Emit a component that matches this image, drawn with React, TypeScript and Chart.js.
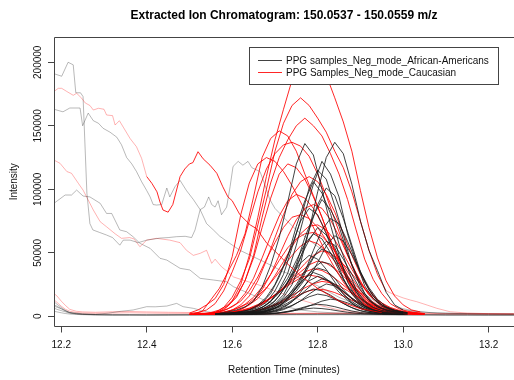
import React, { useEffect, useRef } from "react";
import { Chart, registerables } from "chart.js";

Chart.register(...registerables);

// ---------- text ----------
const chartTitle = "Extracted Ion Chromatogram: 150.0537 - 150.0559 m/z";
const xAxisTitle = "Retention Time (minutes)";
const yAxisTitle = "Intensity";
const seriesLabels = ["PPG samples_Neg_mode_African-Americans", "PPG Samples_Neg_mode_Caucasian"];

// ---------- axes ----------
const xTickValues = [12.2, 12.4, 12.6, 12.8, 13.0, 13.2];
const xTickLabels = ["12.2", "12.4", "12.6", "12.8", "13.0", "13.2"];
const yTickValues = [0, 50000, 100000, 150000, 200000];
const yTickLabels = ["0", "50000", "100000", "150000", "200000"];
const xRange = [12.183, 13.2594];
const yRange = [-8000, 219900];

// ---------- retention-time grids ----------
const rtBlackEven = [12.56, 12.58, 12.6, 12.62, 12.64, 12.66, 12.68, 12.7, 12.72, 12.74, 12.76, 12.78, 12.8, 12.82, 12.84, 12.86, 12.88, 12.9, 12.92, 12.94, 12.96, 12.98, 13.0];
const rtBlackOdd = [12.57, 12.59, 12.61, 12.63, 12.65, 12.67, 12.69, 12.71, 12.73, 12.75, 12.77, 12.79, 12.81, 12.83, 12.85, 12.87, 12.89, 12.91, 12.93, 12.95, 12.97, 12.99, 13.01];
const rtRedEven = [12.5, 12.52, 12.54, 12.56, 12.58, 12.6, 12.62, 12.64, 12.66, 12.68, 12.7, 12.72, 12.74, 12.76, 12.78, 12.8, 12.82, 12.84, 12.86, 12.88, 12.9, 12.92, 12.94, 12.96, 12.98, 13.0, 13.02, 13.04];
const rtRedOdd = [12.51, 12.53, 12.55, 12.57, 12.59, 12.61, 12.63, 12.65, 12.67, 12.69, 12.71, 12.73, 12.75, 12.77, 12.79, 12.81, 12.83, 12.85, 12.87, 12.89, 12.91, 12.93, 12.95, 12.97, 12.99, 13.01, 13.03, 13.05];
const rtBase = [12.183, 12.19, 12.2, 12.21, 12.22, 12.235, 12.25, 12.28, 12.32, 12.36, 12.4, 12.45, 12.5, 12.55, 12.6, 12.65, 12.7, 12.75, 12.8, 12.85, 12.9, 12.95, 13.0, 13.05, 13.1, 13.15, 13.2, 13.26];

// ---------- African-American peaks (dark) ----------
const aa01 = [2500, 3500, 5000, 7500, 12000, 23000, 40000, 62000, 90000, 120000, 136000, 127000, 100000, 72000, 48000, 27000, 15000, 8500, 5000, 3500, 2600, 2100, 1800];
const aa02 = [1600, 1800, 2000, 2500, 3000, 4000, 6000, 9000, 15000, 25000, 42000, 68000, 98000, 125000, 137000, 128000, 104000, 75000, 52000, 36000, 19000, 9000, 5000];
const aa03 = [1900, 2100, 2800, 3200, 4600, 7000, 12000, 21000, 34000, 56000, 81000, 104000, 122000, 112000, 94000, 65000, 43000, 24000, 14000, 8000, 5000, 3700, 2900];
const aa04 = [1800, 2200, 2600, 3300, 4400, 6800, 11000, 20000, 33000, 54000, 76000, 101000, 115000, 108000, 87000, 64000, 40000, 23000, 13000, 7800, 4900, 3600, 2900];
const aa05 = [2100, 2500, 3100, 4200, 6100, 10500, 18000, 31000, 47000, 71000, 91000, 106000, 97000, 81000, 57000, 38000, 21000, 12000, 7200, 4600, 3400, 2700, 2300];
const aa06 = [1600, 1800, 2100, 2500, 3000, 4000, 6200, 10000, 17000, 30000, 46000, 68000, 88000, 101000, 95000, 77000, 56000, 35000, 21000, 11500, 7000, 4500, 3300];
const aa07 = [1800, 2100, 2400, 2900, 3800, 5600, 9000, 16000, 27000, 41000, 62000, 79000, 92000, 84000, 71000, 49000, 33000, 18000, 10500, 6500, 4200, 3100, 2600];
const aa08 = [2000, 2300, 2800, 3700, 5200, 8800, 15000, 25000, 40000, 56000, 75000, 85000, 80000, 65000, 47000, 30000, 17500, 10000, 6100, 4000, 3000, 2500, 2200];
const aa09 = [1600, 1800, 2000, 2300, 2700, 3400, 5000, 8000, 14000, 23000, 35000, 52000, 68000, 77000, 73000, 59000, 43000, 27000, 16000, 9000, 5700, 3800, 2900];
const aa10 = [1700, 1900, 2200, 2600, 3200, 4500, 7500, 12000, 21000, 32000, 47000, 60000, 70000, 64000, 54000, 38000, 25000, 14000, 8300, 5200, 3500, 2700, 2300];
const aa11 = [1900, 2100, 2500, 3200, 4300, 7000, 11500, 20000, 30000, 44000, 57000, 65000, 61000, 50000, 36000, 23000, 14000, 8000, 5000, 3400, 2700, 2300, 2100];
const aa12 = [1500, 1600, 1800, 2100, 2400, 3000, 4200, 6500, 11000, 18000, 27000, 40000, 52000, 59000, 56000, 45000, 33000, 21000, 12500, 7300, 4700, 3200, 2500];
const aa13 = [1600, 1800, 2000, 2300, 2800, 3900, 6000, 10000, 16000, 25000, 36000, 47000, 53000, 50000, 41000, 30000, 19000, 11400, 6700, 4400, 3100, 2400, 2100];
const aa14 = [1800, 2000, 2200, 2700, 3600, 5600, 9000, 15000, 22000, 33000, 42000, 48000, 45000, 37000, 27000, 17500, 10400, 6200, 4100, 2900, 2400, 2100, 1900];
const aa15 = [1600, 1700, 1900, 2100, 2600, 3400, 5200, 8000, 13500, 20000, 29000, 38000, 43000, 41000, 33000, 24000, 16000, 9500, 5700, 3800, 2800, 2300, 2000];
const aa16 = [1600, 1700, 1900, 2100, 2500, 3200, 4600, 7600, 12000, 18000, 26000, 34000, 38000, 36000, 30000, 21000, 14000, 8500, 5200, 3500, 2600, 2200, 1900];
const aa17 = [1600, 1800, 2000, 2300, 3000, 4400, 6800, 11000, 16500, 23000, 30000, 34500, 32000, 27000, 19000, 12700, 7800, 4800, 3300, 2500, 2100, 1900, 1800];
const aa18 = [1600, 1700, 1800, 2000, 2300, 2900, 4000, 6300, 10000, 15000, 21000, 28000, 31500, 29000, 24500, 17700, 11700, 7200, 4500, 3200, 2400, 2000, 1900];
const aa19 = [1600, 1700, 1800, 1900, 2200, 2800, 3900, 6000, 9400, 14200, 20000, 26000, 29500, 27500, 22800, 16600, 11000, 6800, 4300, 3000, 2300, 2000, 1800];
const aa20 = [1500, 1500, 1600, 1700, 1900, 2200, 2600, 3500, 5300, 8200, 12300, 17500, 22000, 25500, 24000, 19700, 14500, 9700, 6100, 3900, 2800, 2200, 1900];
const aa21 = [1500, 1600, 1700, 2000, 2400, 3200, 4700, 7100, 10500, 14700, 18900, 21500, 20100, 16700, 12300, 8300, 5300, 3500, 2600, 2100, 1900, 1800, 1700];
const aa22 = [1500, 1600, 1700, 1800, 2000, 2200, 2900, 4100, 6000, 8700, 12100, 15400, 17500, 16400, 13700, 10100, 6900, 4500, 3100, 2400, 2000, 1800, 1700];
const aa23 = [1500, 1500, 1600, 1600, 1700, 1800, 2000, 2500, 3400, 4900, 6900, 9400, 12000, 13500, 12700, 10600, 8000, 5600, 3800, 2700, 2200, 1900, 1800];
const aa24 = [1500, 1500, 1500, 1600, 1700, 1800, 2000, 2300, 3300, 4600, 6500, 8400, 9500, 8900, 7600, 5800, 4200, 3000, 2300, 1900, 1700, 1600, 1500];
const aa25 = [1400, 1400, 1500, 1500, 1600, 1800, 2200, 2900, 3700, 4800, 5800, 6500, 6100, 5300, 4200, 3200, 2500, 2000, 1800, 1600, 1500, 1400, 1400];
const aa26 = [1500, 1500, 1600, 1800, 2100, 2600, 3200, 4300, 6800, 11400, 18900, 29400, 42400, 55400, 63500, 59200, 48600, 35000, 22600, 13300, 7700, 4900, 3400];

// ---------- Caucasian peaks (red) ----------
const ca01 = [1500, 1800, 2200, 3000, 5000, 12000, 25000, 48000, 78000, 110000, 139000, 163000, 186000, 198000, 204000, 200000, 190000, 172000, 153000, 130000, 99000, 70000, 46000, 28000, 16000, 9000, 5000, 3500];
const ca02 = [1500, 1600, 2000, 3000, 7000, 15000, 28000, 45000, 72000, 100000, 130000, 152000, 166000, 172000, 166000, 156000, 145000, 130000, 117000, 98000, 75000, 52000, 33000, 20000];
const ca03 = [1500, 1800, 2500, 4000, 8000, 15000, 28000, 48000, 78000, 105000, 125000, 139000, 150000, 156000, 150000, 142000, 128000, 112000, 92000, 68000, 45000, 29000, 18000, 10000, 6000, 4000, 3000, 2200];
const ca04 = [2000, 4000, 13000, 22000, 35000, 48000, 65000, 94000, 125000, 140000, 146000, 142000, 130000, 112000, 95000, 78000, 60000, 43000, 28000, 17000, 10000, 6000, 4000, 3000, 2500, 2000, 1800, 1600];
const ca05 = [2600, 5000, 9000, 14000, 25000, 47000, 80000, 105000, 120000, 125000, 122000, 114000, 103000, 90000, 77000, 63000, 50000, 38000, 27000, 18000, 11500, 7500, 5000, 3500, 2700, 2200, 1900, 1700];
const ca06 = [2000, 3000, 5000, 10000, 20000, 35000, 52000, 75000, 98000, 116000, 128000, 135000, 137000, 134000, 126000, 112000, 95000, 76000, 57000, 40000, 27000, 17000, 11000, 7000, 5000, 3500, 2800, 2200];
const ca07 = [1500, 2000, 3000, 5000, 9000, 16000, 28000, 46000, 70000, 93000, 112000, 120000, 117000, 108000, 94000, 78000, 60000, 43000, 29000, 18000, 11000, 7000, 4500, 3200, 2500, 2000, 1800, 1600];
const ca08 = [1500, 1500, 1800, 2200, 3000, 5000, 9000, 16000, 28000, 44000, 62000, 80000, 96000, 106000, 110000, 106000, 96000, 82000, 65000, 48000, 33000, 21000, 13000, 8000, 5000, 3500, 2600, 2100];
const ca09 = [1500, 1800, 2300, 3500, 6000, 10000, 18000, 30000, 46000, 63000, 79000, 91000, 96000, 93000, 85000, 73000, 59000, 45000, 32000, 22000, 14000, 9000, 6000, 4000, 3000, 2400, 2000, 1800];
const ca10 = [1500, 1500, 1700, 2000, 2800, 4000, 7000, 12000, 21000, 33000, 48000, 63000, 76000, 85000, 88000, 85000, 76000, 63000, 48000, 34000, 22000, 14000, 8500, 5500, 3800, 2800, 2200, 1900];
const ca11 = [1500, 1600, 2000, 2800, 4500, 7500, 12000, 20000, 31000, 45000, 58000, 70000, 78000, 80000, 77000, 70000, 60000, 48000, 36000, 25000, 16000, 10000, 6500, 4500, 3300, 2600, 2100, 1800];
const ca12 = [1500, 1500, 1600, 1900, 2500, 3500, 5500, 9000, 14000, 22000, 32000, 43000, 55000, 65000, 71000, 72000, 68000, 60000, 49000, 37000, 26000, 17000, 11000, 7000, 4500, 3200, 2500, 2000];
const ca13 = [1500, 1600, 2000, 2600, 3800, 6000, 9500, 15000, 23000, 33000, 44000, 54000, 61000, 65000, 66000, 63000, 56000, 46000, 35000, 25000, 16000, 10000, 6500, 4300, 3100, 2400, 2000, 1800];
const ca14 = [1500, 1600, 2100, 2700, 3500, 5000, 7300, 10800, 16000, 22400, 30500, 39200, 47900, 55400, 59500, 57200, 51400, 43300, 34000, 25300, 17700, 11900, 7900, 5300, 3800, 2900, 2400, 2000];
const ca15 = [1500, 1500, 1600, 2000, 2500, 3200, 4500, 6500, 9500, 14000, 19500, 26500, 34000, 41500, 48000, 51500, 49500, 44500, 37500, 29500, 22000, 15500, 10500, 7000, 4800, 3500, 2700, 2200];
const ca16 = [1500, 1500, 1600, 1900, 2300, 2900, 4000, 5700, 8200, 12000, 16600, 22500, 28800, 35000, 40600, 43500, 41800, 37600, 31700, 25000, 18700, 13300, 9000, 6000, 4200, 3200, 2600, 2100];
const ca17 = [1500, 1600, 1900, 2200, 2800, 3700, 5100, 7300, 10500, 14500, 19500, 24900, 30300, 35000, 37500, 36100, 32500, 27400, 21700, 16300, 11600, 8000, 5500, 3800, 2900, 2400, 2000, 1800];
const ca18 = [1500, 1600, 1800, 2100, 2600, 3400, 4600, 6500, 9300, 12700, 17000, 21700, 26300, 30300, 32500, 31300, 28200, 23800, 18900, 14200, 10200, 7100, 5000, 3500, 2700, 2200, 1900, 1700];
const ca19 = [1500, 1500, 1600, 1800, 2000, 2400, 3100, 4100, 5700, 7900, 10900, 14500, 18400, 22400, 25700, 27500, 26500, 23900, 20200, 16100, 12200, 8800, 6200, 4400, 3200, 2500, 2100, 1800];
const ca20 = [1500, 1500, 1600, 1700, 1900, 2200, 2700, 3500, 4700, 6500, 8700, 11500, 14500, 17500, 20100, 21500, 20700, 18700, 15900, 12700, 9700, 7100, 5100, 3700, 2800, 2300, 2000, 1800];

// Caucasian sample with the early bump (dark part)
const caBumpTimes = [12.4, 12.412, 12.424, 12.431, 12.438, 12.45, 12.461, 12.478, 12.489, 12.5, 12.508, 12.52, 12.532, 12.548, 12.564, 12.578, 12.59, 12.6, 12.618, 12.642, 12.657, 12.681, 12.71, 12.728, 12.76, 12.8, 12.85, 12.9, 12.95];
const caBumpValues = [110000, 104700, 98000, 90000, 83700, 82000, 88000, 110000, 116000, 120000, 121000, 129600, 124000, 119000, 112600, 102000, 94000, 91000, 80000, 72000, 69000, 57500, 48000, 41700, 32000, 22000, 12000, 6000, 3000];

// ---------- light (outside peak range) traces ----------
const caBumpLightTimes = [12.183, 12.193, 12.201, 12.213, 12.228, 12.236, 12.248, 12.256, 12.267, 12.275, 12.287, 12.3, 12.306, 12.32, 12.326, 12.336, 12.345, 12.361, 12.376, 12.388, 12.4];
const caBumpLightValues = [177000, 179500, 179500, 177000, 174000, 175600, 171600, 168000, 166000, 162400, 163800, 163000, 158500, 158000, 150600, 154000, 149000, 140000, 133500, 124400, 110000];

const aaLight1Times = [12.183, 12.201, 12.216, 12.228, 12.234, 12.245, 12.251, 12.26, 12.267, 12.274, 12.29, 12.306, 12.32, 12.337, 12.345, 12.361, 12.38, 12.4, 12.431, 12.45, 12.47, 12.49, 12.505, 12.513, 12.525, 12.535, 12.545, 12.552, 12.56, 12.567, 12.575, 12.587, 12.595, 12.602, 12.614, 12.625, 12.637, 12.646, 12.665, 12.675, 12.688, 12.7, 12.72, 12.75, 12.78, 12.8, 12.83, 12.86, 12.9, 12.95, 13.0];
const aaLight1Values = [191000, 189000, 200000, 198000, 176000, 176000, 173000, 97000, 73000, 68000, 66000, 64000, 62000, 56000, 60000, 60000, 58000, 60000, 61600, 62000, 62700, 63000, 62000, 68000, 84000, 86000, 94000, 88000, 86000, 91000, 80000, 86000, 102000, 118000, 122000, 119000, 122000, 117000, 114000, 105000, 92000, 85000, 78000, 68000, 60000, 55000, 48000, 35000, 20000, 8000, 3000];

const aaLight2Times = [12.183, 12.204, 12.22, 12.244, 12.25, 12.263, 12.275, 12.287, 12.298, 12.314, 12.33, 12.341, 12.353, 12.365, 12.376, 12.388, 12.4, 12.408, 12.415, 12.423, 12.435, 12.447, 12.454, 12.466, 12.478, 12.493, 12.509, 12.525, 12.54, 12.556, 12.571, 12.594, 12.618, 12.649, 12.68, 12.72, 12.76, 12.8, 12.85, 12.9, 12.95, 13.0];
const aaLight2Values = [163000, 161000, 164000, 164000, 150000, 160000, 154000, 152000, 148000, 145000, 141000, 135000, 125000, 120000, 114000, 106000, 99000, 94000, 88000, 87600, 88000, 101000, 94000, 102000, 107000, 99000, 92000, 84000, 73000, 68000, 63000, 57500, 52000, 47000, 42000, 35000, 30000, 24000, 15000, 8000, 4000, 2000];

const aaLight3Times = [12.183, 12.209, 12.224, 12.236, 12.251, 12.267, 12.291, 12.306, 12.318, 12.337, 12.353, 12.368, 12.384, 12.408, 12.431, 12.447, 12.478, 12.501, 12.525, 12.556, 12.587, 12.603, 12.64, 12.68, 12.72, 12.76, 12.8, 12.85, 12.9];
const aaLight3Values = [89000, 95500, 95500, 99400, 94700, 94000, 89000, 81000, 81000, 68000, 66600, 62700, 57500, 53500, 45700, 44300, 37800, 36500, 29900, 28600, 27200, 23300, 18000, 12000, 8000, 5000, 3500, 2500, 2000];

const aaLight4Times = [12.183, 12.2, 12.22, 12.25, 12.28, 12.31, 12.34, 12.368, 12.384, 12.4, 12.42, 12.447, 12.47, 12.485, 12.509, 12.54, 12.57, 12.6, 12.65];
const aaLight4Values = [8000, 6000, 3000, 2000, 1500, 2500, 4000, 5000, 6300, 7600, 7500, 8100, 10200, 7600, 6300, 3600, 2500, 2000, 1500];

const caLight2Times = [12.183, 12.197, 12.213, 12.224, 12.24, 12.251, 12.263, 12.275, 12.291, 12.306, 12.326, 12.341, 12.36, 12.37, 12.384, 12.4, 12.423, 12.454, 12.478, 12.493, 12.509, 12.525, 12.54, 12.552, 12.56, 12.575, 12.59, 12.603, 12.63, 12.66, 12.7, 12.75, 12.8, 12.85, 12.9];
const caLight2Values = [123000, 120500, 114000, 112600, 104700, 99400, 91600, 83700, 74500, 70500, 65000, 61400, 62000, 61000, 54800, 60000, 61400, 60000, 58000, 52000, 48000, 49600, 52000, 41700, 45000, 39000, 35000, 31000, 28000, 25000, 20000, 14000, 9000, 5000, 3000];

const caTailTimes = [12.96, 12.98, 13.0, 13.017, 13.032, 13.056, 13.079, 13.11, 13.15, 13.2, 13.259];
const caTailValues = [20000, 17000, 14500, 12800, 11500, 8900, 6300, 3600, 2600, 2100, 1900];
const aaTail1Times = [12.98, 13.0, 13.03, 13.06, 13.1, 13.15, 13.2, 13.259];
const aaTail1Values = [8000, 6000, 4000, 3000, 2500, 2200, 2000, 1900];
const aaTail2Times = [13.0, 13.04, 13.08, 13.13, 13.2, 13.259];
const aaTail2Values = [5000, 3500, 2600, 2200, 2000, 1800];

const aaBaseA = [11500, 9500, 7000, 4500, 3000, 2200, 1800, 1500, 1400, 1400, 1300, 1400, 1500, 1500, 1600, 1700, 1800, 1900, 2000, 1900, 1800, 1700, 1600, 1500, 1400, 1400, 1300, 1300];
const aaBaseB = [9000, 8000, 6000, 4000, 2800, 2000, 1600, 1300, 1200, 1200, 1100, 1200, 1200, 1300, 1400, 1500, 1600, 1700, 1800, 1700, 1600, 1500, 1400, 1300, 1200, 1200, 1100, 1100];
const aaBaseC = [6500, 5500, 4500, 3500, 2500, 1900, 1500, 1200, 1000, 1000, 1000, 1000, 1100, 1100, 1200, 1300, 1400, 1500, 1500, 1500, 1400, 1300, 1200, 1100, 1000, 1000, 1000, 1000];
const aaBaseD = [4000, 3500, 2800, 2200, 1800, 1500, 1300, 1100, 900, 900, 900, 900, 1000, 1000, 1000, 1100, 1100, 1200, 1200, 1200, 1100, 1100, 1000, 1000, 900, 900, 900, 900];
const caBaseA = [18000, 16000, 12000, 8500, 5500, 4000, 3500, 3200, 3600, 3800, 3500, 3200, 3000, 2800, 2600, 2500, 2400, 2400, 2500, 2600, 2700, 2600, 2500, 2400, 2200, 2100, 2000, 2000];
const caBaseB = [13000, 11000, 8000, 5500, 4000, 3000, 2600, 2400, 2600, 2800, 2600, 2400, 2300, 2200, 2100, 2000, 2000, 2100, 2200, 2300, 2300, 2200, 2100, 2000, 1900, 1800, 1800, 1800];

// ---------- styles ----------
const FONT = "'Liberation Sans', Arial, Helvetica, sans-serif";
const colorAA = "rgba(25,25,25,0.82)";
const colorCA = "rgba(255,0,0,0.85)";
const colorAALight = "rgba(0,0,0,0.28)";
const colorCALight = "rgba(255,0,0,0.3)";
const legendColors = [colorAA, colorCA];

type Series = { t: number[]; v: number[]; c: string };

function buildDatasets() {
  const light: Series[] = [
    { t: rtBase, v: aaBaseA, c: colorAALight },
    { t: rtBase, v: aaBaseB, c: colorAALight },
    { t: rtBase, v: aaBaseC, c: colorAALight },
    { t: rtBase, v: aaBaseD, c: colorAALight },
    { t: rtBase, v: caBaseA, c: colorCALight },
    { t: rtBase, v: caBaseB, c: colorCALight },
    { t: aaTail1Times, v: aaTail1Values, c: colorAALight },
    { t: aaTail2Times, v: aaTail2Values, c: colorAALight },
    { t: caTailTimes, v: caTailValues, c: colorCALight },
    { t: aaLight4Times, v: aaLight4Values, c: colorAALight },
    { t: aaLight3Times, v: aaLight3Values, c: colorAALight },
    { t: caLight2Times, v: caLight2Values, c: colorCALight },
    { t: aaLight2Times, v: aaLight2Values, c: colorAALight },
    { t: aaLight1Times, v: aaLight1Values, c: colorAALight },
    { t: caBumpLightTimes, v: caBumpLightValues, c: colorCALight },
  ];
  const blacks: Series[] = [
    { t: rtBlackOdd, v: aa25, c: colorAA }, { t: rtBlackEven, v: aa24, c: colorAA },
    { t: rtBlackOdd, v: aa23, c: colorAA }, { t: rtBlackOdd, v: aa21, c: colorAA },
    { t: rtBlackEven, v: aa22, c: colorAA }, { t: rtBlackEven, v: aa20, c: colorAA },
    { t: rtBlackOdd, v: aa19, c: colorAA }, { t: rtBlackEven, v: aa18, c: colorAA },
    { t: rtBlackOdd, v: aa17, c: colorAA }, { t: rtBlackEven, v: aa16, c: colorAA },
    { t: rtBlackOdd, v: aa15, c: colorAA }, { t: rtBlackEven, v: aa14, c: colorAA },
    { t: rtBlackOdd, v: aa13, c: colorAA }, { t: rtBlackEven, v: aa12, c: colorAA },
    { t: rtBlackOdd, v: aa11, c: colorAA }, { t: rtBlackEven, v: aa10, c: colorAA },
    { t: rtBlackOdd, v: aa09, c: colorAA }, { t: rtBlackEven, v: aa26, c: colorAA },
    { t: rtBlackEven, v: aa08, c: colorAA }, { t: rtBlackOdd, v: aa07, c: colorAA },
    { t: rtBlackEven, v: aa06, c: colorAA }, { t: rtBlackOdd, v: aa05, c: colorAA },
    { t: rtBlackEven, v: aa04, c: colorAA }, { t: rtBlackOdd, v: aa03, c: colorAA },
    { t: rtBlackEven, v: aa02, c: colorAA }, { t: rtBlackOdd, v: aa01, c: colorAA },
  ];
  const reds: Series[] = [
    { t: rtRedEven, v: ca20, c: colorCA }, { t: rtRedOdd, v: ca19, c: colorCA },
    { t: rtRedEven, v: ca18, c: colorCA }, { t: rtRedOdd, v: ca17, c: colorCA },
    { t: rtRedEven, v: ca16, c: colorCA }, { t: rtRedOdd, v: ca15, c: colorCA },
    { t: rtRedEven, v: ca14, c: colorCA }, { t: rtRedOdd, v: ca13, c: colorCA },
    { t: rtRedEven, v: ca12, c: colorCA }, { t: rtRedEven, v: ca11, c: colorCA },
    { t: rtRedOdd, v: ca10, c: colorCA }, { t: rtRedOdd, v: ca09, c: colorCA },
    { t: rtRedEven, v: ca08, c: colorCA }, { t: rtRedOdd, v: ca07, c: colorCA },
    { t: rtRedEven, v: ca06, c: colorCA }, { t: rtRedEven, v: ca05, c: colorCA },
    { t: rtRedOdd, v: ca04, c: colorCA }, { t: rtRedOdd, v: ca03, c: colorCA },
    { t: rtRedEven, v: ca02, c: colorCA }, { t: rtRedEven, v: ca01, c: colorCA },
    { t: caBumpTimes, v: caBumpValues, c: colorCA },
  ];
  const peaks: Series[] = [];
  const n = Math.max(blacks.length, reds.length);
  for (let i = 0; i < n; i++) {
    if (i < blacks.length) peaks.push(blacks[i]);
    if (i < reds.length) peaks.push(reds[i]);
  }
  const bottomToTop = [...light, ...peaks];
  // Chart.js draws dataset 0 on top, so reverse the painter's order
  return bottomToTop.reverse().map((s) => ({
    data: s.v.map((y, i) => ({ x: s.t[i], y })),
    borderColor: s.c,
    borderWidth: 1,
    pointRadius: 0,
    fill: false,
    tension: 0,
  }));
}

const decorPlugin = {
  id: "decor",
  afterDatasetsDraw(chart: any) {
    const ctx = chart.ctx as CanvasRenderingContext2D;
    const { left, top, right, bottom } = chart.chartArea;
    ctx.save();
    // plot box
    ctx.strokeStyle = "#444";
    ctx.lineWidth = 1;
    const l = Math.round(left) + 0.5;
    const t = Math.round(top) + 0.5;
    const b = Math.floor(bottom) + 0.5;
    ctx.beginPath();
    ctx.moveTo(right + 2, t);
    ctx.lineTo(l, t);
    ctx.lineTo(l, b);
    ctx.lineTo(right + 2, b);
    ctx.stroke();

    // rotated y tick labels (R style)
    const ys = chart.scales.y;
    ctx.fillStyle = "#111";
    ctx.font = `10px ${FONT}`;
    ctx.textAlign = "center";
    ctx.textBaseline = "middle";
    yTickValues.forEach((v, i) => {
      const py = ys.getPixelForValue(v);
      ctx.save();
      ctx.translate(38.5, py);
      ctx.rotate(-Math.PI / 2);
      ctx.fillText(yTickLabels[i], 0, 0);
      ctx.restore();
    });

    // legend
    const lx = 249.5, ly = 47.5, lw = 249, lh = 37;
    ctx.fillStyle = "#fff";
    ctx.fillRect(lx, ly, lw, lh);
    ctx.strokeStyle = "#444";
    ctx.strokeRect(lx, ly, lw, lh);
    ctx.textAlign = "left";
    ctx.textBaseline = "middle";
    ctx.font = `10px ${FONT}`;
    seriesLabels.forEach((label, i) => {
      const yy = 60.5 + i * 12;
      ctx.strokeStyle = legendColors[i];
      ctx.beginPath();
      ctx.moveTo(258, yy);
      ctx.lineTo(282, yy);
      ctx.stroke();
      ctx.fillStyle = "#111";
      ctx.fillText(label, 286, yy + 0.5);
    });
    ctx.restore();
  },
};

export default function App() {
  const ref = useRef<HTMLCanvasElement | null>(null);
  useEffect(() => {
    if (!ref.current) return;
    const chart = new Chart(ref.current, {
      type: "line",
      data: { datasets: buildDatasets() as any },
      options: {
        animation: false,
        responsive: false,
        devicePixelRatio: 1,
        events: [],
        layout: { padding: 0 },
        elements: { point: { radius: 0 }, line: { borderWidth: 1, tension: 0 } },
        plugins: {
          legend: { display: false },
          tooltip: { enabled: false },
          title: {
            display: true,
            text: chartTitle,
            fullSize: false,
            color: "#000",
            font: { family: FONT, size: 12, weight: "bold" },
            padding: { top: 8, bottom: 14.6 },
          },
        },
        scales: {
          x: {
            type: "linear",
            position: "bottom",
            min: xRange[0],
            max: xRange[1],
            afterBuildTicks: (s: any) => {
              s.ticks = xTickValues.map((v) => ({ value: v }));
            },
            afterFit: (s: any) => {
              s.height = 53.5;
            },
            ticks: {
              autoSkip: false,
              maxRotation: 0,
              minRotation: 0,
              padding: 7,
              color: "#111",
              font: { family: FONT, size: 10 },
              callback: (_v: any, i: number) => xTickLabels[i],
            },
            grid: { drawOnChartArea: false, drawTicks: true, tickLength: 6, color: "#444", lineWidth: 1 },
            border: { display: false },
            title: {
              display: true,
              text: xAxisTitle,
              color: "#111",
              font: { family: FONT, size: 10 },
              padding: { top: 0, bottom: 4 },
            },
          },
          y: {
            type: "linear",
            position: "left",
            min: yRange[0],
            max: yRange[1],
            afterBuildTicks: (s: any) => {
              s.ticks = yTickValues.map((v) => ({ value: v }));
            },
            afterFit: (s: any) => {
              s.width = 54;
            },
            ticks: { display: false },
            grid: { drawOnChartArea: false, drawTicks: true, tickLength: 6, color: "#444", lineWidth: 1 },
            border: { display: false },
            title: {
              display: true,
              text: yAxisTitle,
              color: "#111",
              font: { family: FONT, size: 10 },
              padding: { top: 8, bottom: 0 },
            },
          },
        },
      } as any,
      plugins: [decorPlugin],
    });
    return () => chart.destroy();
  }, []);
  return (
    <div style={{ position: "fixed", left: 0, top: 0, width: 514, height: 380, background: "#fff" }}>
      <canvas ref={ref} width={514} height={380} style={{ display: "block" }} />
    </div>
  );
}
